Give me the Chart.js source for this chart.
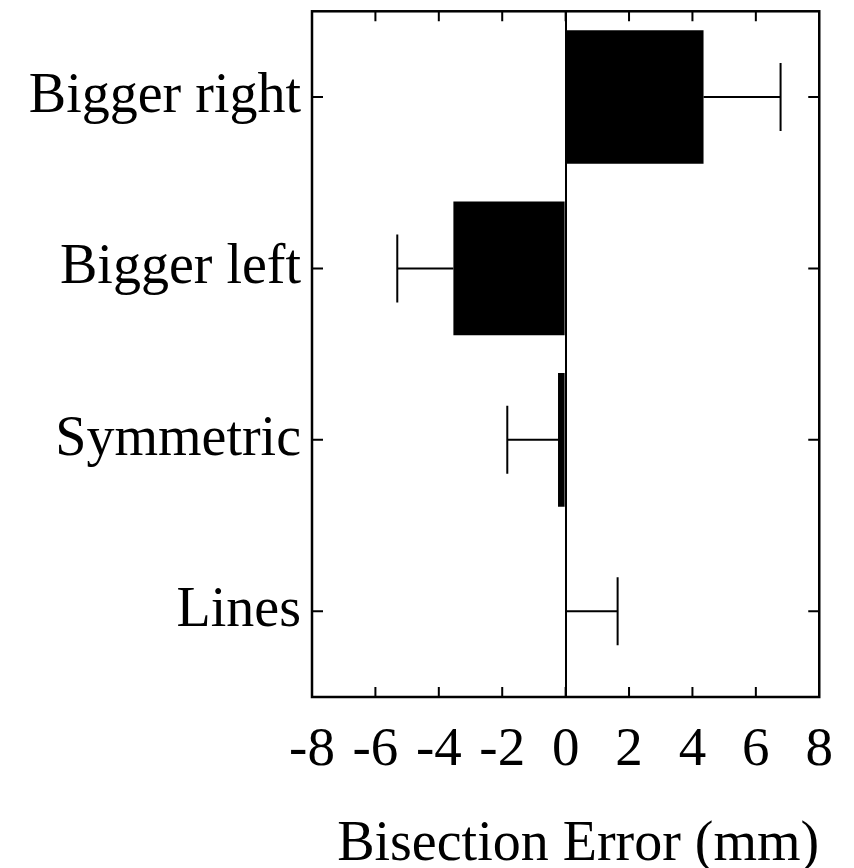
<!DOCTYPE html>
<html>
<head>
<meta charset="utf-8">
<script src="https://cdn.jsdelivr.net/npm/chart.js@4"></script>
<style>
  body { margin: 0; background: #fff; }
  #wrap { width: 854px; height: 868px; position: relative; }
</style>
</head>
<body>
<div id="wrap"><canvas id="bisChart"></canvas></div>
<script>
const conditions = ["Bigger right", "Bigger left", "Symmetric", "Lines"];
const meanError = [4.35, -3.54, -0.24, 0.0];
const errorSize = [2.43, 1.77, 1.60, 1.64];
const xTicks = [-8, -6, -4, -2, 0, 2, 4, 6, 8];

const fontFam = "'Liberation Serif', 'Times New Roman', serif";

// box, inward ticks and error bars
const frameAndErrors = {
    id: "frameAndErrors",
    afterDatasetsDraw(chart) {
        const c = chart.ctx;
        const area = chart.chartArea;
        const x = chart.scales.x;
        const y = chart.scales.y;
        c.save();
        c.strokeStyle = "#000";

        // error bars
        c.lineWidth = 2;
        for (let i = 0; i < meanError.length; i++) {
            const m = meanError[i];
            const end = m >= 0 ? m + errorSize[i] : m - errorSize[i];
            const py = y.getPixelForValue(i);
            const p0 = x.getPixelForValue(m);
            const p1 = x.getPixelForValue(end);
            c.beginPath();
            c.moveTo(p0, py);
            c.lineTo(p1, py);
            c.moveTo(p1, py - 34);
            c.lineTo(p1, py + 34);
            c.stroke();
        }

        // frame
        c.lineWidth = 2.5;
        c.strokeRect(area.left, area.top, area.right - area.left, area.bottom - area.top);

        // inward ticks
        c.lineWidth = 2;
        c.beginPath();
        xTicks.forEach(function (v) {
            if (v === xTicks[0] || v === xTicks[xTicks.length - 1]) return;
            const px = x.getPixelForValue(v);
            c.moveTo(px, area.bottom);
            c.lineTo(px, area.bottom - 10);
            c.moveTo(px, area.top);
            c.lineTo(px, area.top + 10);
        });
        conditions.forEach(function (lbl, i) {
            const py = y.getPixelForValue(i);
            c.moveTo(area.left, py);
            c.lineTo(area.left + 11, py);
            c.moveTo(area.right, py);
            c.lineTo(area.right - 11, py);
        });
        c.stroke();
        c.restore();
    }
};

new Chart(document.getElementById("bisChart"), {
    type: "bar",
    data: {
        labels: conditions,
        datasets: [
            {
                label: "Bisection Error",
                data: meanError,
                backgroundColor: "#000",
                borderWidth: 0,
                barPercentage: 0.78,
                categoryPercentage: 1.0,
            },
        ],
    },
    options: {
        indexAxis: "y",
        responsive: true,
        maintainAspectRatio: false,
        animation: false,
        layout: {
            padding: { top: 1, right: 27, bottom: 0, left: 0 },
        },
        plugins: {
            legend: { display: false },
            tooltip: { enabled: false },
        },
        scales: {
            x: {
                type: "linear",
                min: -8,
                max: 8,
                afterBuildTicks: function (axis) {
                    axis.ticks = xTicks.map(function (v) { return { value: v }; });
                },
                afterFit: function (axis) {
                    axis.height = 171;
                },
                grid: {
                    drawTicks: false,
                    lineWidth: 2,
                    color: function (ctx) {
                        return ctx.tick && ctx.tick.value === 0 ? "#000" : "rgba(0,0,0,0)";
                    },
                },
                border: { display: false },
                ticks: {
                    color: "#000",
                    padding: 21,
                    maxRotation: 0,
                    autoSkip: false,
                    font: { family: fontFam, size: 55 },
                },
                title: {
                    display: true,
                    text: "Bisection Error (mm)",
                    color: "#000",
                    align: "end",
                    padding: { top: 0, bottom: 0 },
                    font: { family: fontFam, size: 56, lineHeight: 0.82 },
                },
            },
            y: {
                afterFit: function (axis) {
                    axis.width = 312;
                },
                grid: { display: false, drawTicks: false },
                border: { display: false },
                ticks: {
                    color: "#000",
                    padding: 11,
                    font: { family: fontFam, size: 56, lineHeight: 0.01 },
                },
            },
        },
    },
    plugins: [frameAndErrors],
});
</script>
</body>
</html>
